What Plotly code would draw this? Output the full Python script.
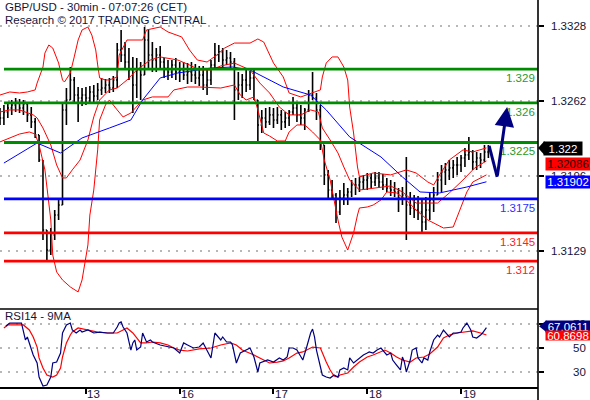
import plotly.graph_objects as go

# ---------------- data (30-min bar numbers; sampled hourly) ----------------
bar_index = list(range(0, 252, 2))
bar_open = [1.32494,1.32467,1.32520,1.32555,1.32582,1.32600,1.32555,1.32591,1.32494,1.32432,
            1.32317,1.32095,1.31475,1.31298,1.31431,1.31608,1.31696,1.32538,1.32626,1.32803,
            1.32670,1.32644,1.32670,1.32644,1.32697,1.32661,1.32715,1.32732,1.32759,1.32732,
            1.32803,1.33069,1.33024,1.32962,1.32892,1.32759,1.32892,1.32847,1.33157,1.33024,
            1.32980,1.33024,1.32962,1.32909,1.32874,1.32936,1.32874,1.32892,1.32847,1.32874,
            1.32847,1.32821,1.32847,1.32759,1.32803,1.32936,1.33024,1.33051,1.32980,1.32998,
            1.32962,1.32715,1.32759,1.32803,1.32759,1.32821,1.32626,1.32405,1.32467,1.32432,
            1.32494,1.32449,1.32494,1.32432,1.32467,1.32520,1.32555,1.32494,1.32467,1.32538,
            1.32670,1.32644,1.32538,1.32228,1.31963,1.31829,1.31785,1.31634,1.31758,1.31785,
            1.31812,1.31874,1.31874,1.31900,1.31918,1.31936,1.31900,1.31936,1.31900,1.31874,
            1.31847,1.31829,1.31812,1.31758,1.31785,1.31696,1.31670,1.31652,1.31634,1.31546,
            1.31652,1.31741,1.31785,1.31918,1.31989,1.32007,1.32025,1.32051,1.32051,1.32113,
            1.32140,1.32166,1.32078,1.32113,1.32095,1.32166]
bar_high = [1.32555,1.32582,1.32600,1.32626,1.32644,1.32635,1.32626,1.32591,1.32564,1.32467,
            1.32317,1.32095,1.31475,1.31493,1.31652,1.31741,1.32600,1.32732,1.32918,1.32830,
            1.32741,1.32732,1.32741,1.32750,1.32759,1.32776,1.32821,1.32812,1.32821,1.32838,
            1.33130,1.33246,1.33139,1.33086,1.33007,1.32998,1.32962,1.33272,1.33246,1.33139,
            1.33086,1.33104,1.32998,1.32980,1.32980,1.32998,1.32962,1.32962,1.32953,1.32962,
            1.32945,1.32927,1.32927,1.32909,1.32980,1.33130,1.33113,1.33086,1.33069,1.33051,
            1.32998,1.32874,1.32856,1.32892,1.32883,1.32892,1.32626,1.32538,1.32555,1.32564,
            1.32555,1.32564,1.32538,1.32520,1.32538,1.32653,1.32600,1.32582,1.32555,1.32715,
            1.32874,1.32688,1.32582,1.32228,1.32007,1.31918,1.31803,1.31829,1.31891,1.31847,
            1.31918,1.31936,1.31945,1.31963,1.31980,1.31971,1.31989,1.31989,1.31971,1.31936,
            1.31918,1.31900,1.31847,1.31856,1.32122,1.31812,1.31785,1.31776,1.31741,1.31767,
            1.31812,1.31856,1.31989,1.32051,1.32069,1.32095,1.32095,1.32122,1.32140,1.32202,
            1.32299,1.32184,1.32166,1.32157,1.32228,1.32228]
bar_low = [1.32405,1.32405,1.32467,1.32494,1.32520,1.32511,1.32494,1.32432,1.32378,1.32290,
           1.32078,1.31387,1.31192,1.31254,1.31387,1.31564,1.31696,1.32405,1.32626,1.32600,
           1.32432,1.32573,1.32582,1.32591,1.32591,1.32626,1.32670,1.32688,1.32688,1.32697,
           1.32732,1.32962,1.32892,1.32803,1.32511,1.32644,1.32626,1.32847,1.32909,1.32874,
           1.32874,1.32909,1.32821,1.32803,1.32821,1.32803,1.32785,1.32803,1.32768,1.32785,
           1.32768,1.32750,1.32715,1.32670,1.32759,1.32892,1.32962,1.32909,1.32936,1.32892,
           1.32449,1.32626,1.32644,1.32697,1.32715,1.32626,1.32237,1.32334,1.32378,1.32405,
           1.32378,1.32414,1.32361,1.32378,1.32396,1.32494,1.32432,1.32405,1.32361,1.32520,
           1.32626,1.32449,1.32184,1.31874,1.31741,1.31741,1.31537,1.31608,1.31696,1.31696,
           1.31767,1.31785,1.31812,1.31829,1.31829,1.31847,1.31865,1.31847,1.31829,1.31812,
           1.31776,1.31767,1.31634,1.31696,1.31387,1.31608,1.31581,1.31564,1.31458,1.31475,
           1.31564,1.31634,1.31785,1.31812,1.31874,1.31918,1.31936,1.31963,1.31989,1.32033,
           1.32095,1.32007,1.32007,1.32025,1.32078,1.32113]
bar_close = [1.32467,1.32520,1.32555,1.32582,1.32600,1.32555,1.32591,1.32494,1.32432,1.32317,
             1.32095,1.31475,1.31298,1.31431,1.31608,1.31696,1.32538,1.32626,1.32803,1.32670,
             1.32644,1.32670,1.32644,1.32697,1.32661,1.32715,1.32732,1.32759,1.32732,1.32803,
             1.33069,1.33024,1.32962,1.32892,1.32759,1.32892,1.32847,1.33157,1.33024,1.32980,
             1.33024,1.32962,1.32909,1.32874,1.32936,1.32874,1.32892,1.32847,1.32874,1.32847,
             1.32821,1.32847,1.32759,1.32803,1.32936,1.33024,1.33051,1.32980,1.32998,1.32962,
             1.32715,1.32759,1.32803,1.32759,1.32821,1.32626,1.32405,1.32467,1.32432,1.32494,
             1.32449,1.32494,1.32432,1.32467,1.32520,1.32555,1.32494,1.32467,1.32538,1.32670,
             1.32644,1.32538,1.32228,1.31963,1.31829,1.31785,1.31634,1.31758,1.31785,1.31812,
             1.31874,1.31874,1.31900,1.31918,1.31936,1.31900,1.31936,1.31900,1.31874,1.31847,
             1.31829,1.31812,1.31758,1.31785,1.31696,1.31670,1.31652,1.31634,1.31546,1.31652,
             1.31741,1.31785,1.31918,1.31989,1.32007,1.32025,1.32051,1.32051,1.32113,1.32140,
             1.32166,1.32078,1.32113,1.32095,1.32166,1.32202]

bb_upper_x = [0,5,10,14,18,19,22,23,25,27,30,32,33,36,38,40,42,45,47,49,50,51,54,56,60,61,65,73,75,82,
              86,93,97,101,106,111,115,120,128,132,135,137,140,145,148,154,160,164,165,167,170,173,176,178,179,
              181,183,184,191,200,208,213,219,222,225,230,237,242,249]
bb_upper = [1.32670,1.32697,1.32688,1.32697,1.32715,1.32776,1.32918,1.33042,1.33113,1.33086,
            1.32953,1.32803,1.32785,1.32865,1.33007,1.33157,1.33246,1.33272,1.33201,1.33069,
            1.32936,1.32821,1.32803,1.32803,1.32830,1.33024,1.33157,1.33157,1.33246,1.33272,
            1.33228,1.33184,1.33069,1.32980,1.32962,1.33024,1.33086,1.33130,1.33130,1.33166,
            1.33139,1.33069,1.32953,1.32830,1.32688,1.32653,1.32688,1.32715,1.32830,1.32953,
            1.33007,1.33007,1.32918,1.32803,1.32564,1.32334,1.32033,1.31945,1.31980,1.31963,
            1.32007,1.31980,1.31900,1.31874,1.31963,1.32095,1.32184,1.32166,1.32202]
bb_mid_x = [0,5,10,17,19,22,26,29,32,34,37,41,45,48,51,56,60,65,70,77,82,91,97,102,108,113,120,128,133,138,
            143,148,154,159,163,165,169,173,176,179,184,192,200,206,213,224,230,237,243,249]
bb_mid = [1.32520,1.32538,1.32538,1.32494,1.32467,1.32378,1.32228,1.32051,1.31936,1.31936,
          1.32007,1.32095,1.32272,1.32476,1.32626,1.32715,1.32732,1.32803,1.32892,1.32980,
          1.33007,1.32980,1.32936,1.32892,1.32892,1.32927,1.32953,1.32892,1.32776,1.32688,
          1.32564,1.32494,1.32494,1.32538,1.32520,1.32378,1.32272,1.32157,1.32033,1.31918,
          1.31829,1.31847,1.31865,1.31812,1.31714,1.31714,1.31803,1.31918,1.32025,1.32086]
bb_lower_x = [0,5,10,15,18,20,23,26,27,29,32,36,40,42,45,46,48,50,51,54,56,60,63,67,70,73,78,86,89,96,
              102,113,120,123,126,130,132,135,138,142,146,148,152,156,160,164,166,169,173,175,178,181,183,184,
              188,191,195,198,203,208,213,219,227,232,236,239,242,249]
bb_lower = [1.32255,1.32290,1.32325,1.32343,1.32325,1.32228,1.32007,1.31564,1.31254,1.31104,
            1.31033,1.30971,1.30927,1.31033,1.31343,1.31608,1.31829,1.32184,1.32449,1.32582,
            1.32626,1.32538,1.32476,1.32511,1.32564,1.32626,1.32653,1.32653,1.32715,1.32741,
            1.32741,1.32732,1.32759,1.32670,1.32626,1.32653,1.32538,1.32334,1.32307,1.32263,
            1.32263,1.32343,1.32405,1.32405,1.32343,1.32272,1.32095,1.31918,1.31564,1.31413,
            1.31298,1.31449,1.31608,1.31670,1.31679,1.31696,1.31741,1.31812,1.31803,1.31741,
            1.31652,1.31564,1.31493,1.31502,1.31679,1.31812,1.31900,1.31963]
ma_x = [2,19,31,42,56,67,73,82,91,108,119,128,145,159,167,179,195,206,215,225,239,249]
ma_y = [1.32068,1.32245,1.32157,1.32290,1.32378,1.32449,1.32626,1.32821,1.32865,1.32909,1.32918,
        1.32892,1.32741,1.32670,1.32538,1.32299,1.32122,1.31945,1.31812,1.31803,1.31856,1.31902]

rsi_x = [3,5,11,13,14,16,17,19,20,22,24,26,27,29,31,32,33,34,36,37,39,41,42,45,48,51,55,58,60,61,
         62,63,65,67,68,69,70,72,73,75,77,78,82,86,89,92,94,96,99,102,104,108,110,113,114,116,118,119,121,123,
         126,128,130,132,133,137,140,143,145,147,148,150,152,155,157,159,160,161,162,164,
         165,167,169,171,173,174,176,178,179,181,183,184,186,188,189,191,193,195,196,198,
         200,201,203,205,206,207,208,210,211,213,214,216,217,219,220,222,224,225,227,229,
         230,232,234,236,237,239,241,242,244,246,247,249]
rsi_v = [68.3,70.8,70.8,56.7,59.2,48.3,44.2,37.5,25.8,18.3,19.2,25.8,37.5,38.3,45.8,62.5,66.7,69.2,70.8,65.0,
         62.5,65.0,63.3,65.0,62.5,63.3,62.5,62.5,67.5,70.8,71.7,67.5,62.5,48.3,54.2,56.7,48.3,50.8,62.5,55.0,
         56.7,55.0,52.5,50.8,50.0,45.8,54.2,52.5,50.0,50.8,54.2,41.7,62.5,56.7,59.2,55.0,55.0,52.5,37.5,45.8,
         48.3,50.0,42.5,30.0,37.5,40.0,38.3,41.7,40.0,42.5,50.0,50.0,48.3,40.0,50.8,62.5,65.8,59.2,48.3,34.2,
         27.5,25.8,25.0,27.5,25.8,31.7,33.3,31.7,41.7,37.5,40.0,41.7,44.2,45.8,46.7,45.8,48.3,50.0,48.3,44.2,
         45.8,40.0,35.8,31.7,42.5,38.3,30.0,40.0,48.3,50.0,41.7,37.5,41.7,40.0,46.7,56.7,60.8,59.2,65.0,60.8,
         59.2,62.5,62.5,63.3,66.7,70.8,65.0,59.2,58.3,60.8,62.5,67.06]
rsima_x = [2,4,12,15,17,19,20,22,24,27,29,31,32,34,36,37,40,45,50,55,60,63,65,68,72,75,78,82,86,89,
           92,96,99,102,108,113,118,121,124,130,135,138,142,145,148,152,155,159,160,164,
           165,167,169,171,173,174,178,181,184,188,191,195,197,200,203,206,210,213,217,220,
           224,227,230,234,239,242,246,249]
rsima_v = [66.7,69.2,69.2,65.0,59.2,50.8,41.7,33.3,27.5,25.8,27.5,33.3,42.5,54.2,60.8,63.3,66.7,65.0,63.3,62.5,
           62.5,65.0,66.7,62.5,54.2,54.2,55.0,54.2,52.5,50.0,48.3,47.5,48.3,49.2,50.0,52.5,54.2,52.5,48.3,44.2,
           40.0,37.5,38.3,39.2,41.7,45.8,46.7,50.0,50.8,50.0,45.8,38.3,31.7,26.7,25.8,27.5,29.2,34.2,38.3,42.5,
           44.2,46.7,48.3,45.8,42.5,40.0,38.3,41.7,42.5,45.0,50.8,58.3,60.8,62.5,63.3,64.2,62.5,60.87]

levels = [1.329, 1.326, 1.3225, 1.3175, 1.3145, 1.312]
level_labels = ["1.329", "1.326", "1.3225", "1.3175", "1.3145", "1.312"]
level_colors = ["#008c00", "#008c00", "#008c00", "#0000ff", "#ff0000", "#ff0000"]
level_text_colors = ["#2a9a2a", "#2a9a2a", "#2a9a2a", "#3030ff", "#ff2020", "#ff2020"]

forecast_x = [250.4, 254.5, 259.6]
forecast_y = [1.32219, 1.31945, 1.32564]

price_ticks = [1.33281, 1.32617, 1.31953, 1.31290]
price_tick_text = ["1.3328", "1.3262", "1.3196", "1.3129"]
rsi_ticks = [30, 50, 70]
day_ticks = [44, 92, 140, 188, 236]
day_labels = ["13", "16", "17", "18", "19"]

last_close = 1.322
last_mid = 1.32086
last_ma = 1.31902
last_rsi = 67.0611
last_rsima = 60.8698

# ---------------- figure ----------------
W, H = 590, 400
XR = 538 / W
FONT = "Liberation Sans, Arial, sans-serif"
TXT = "#14143a"

fig = go.Figure()
for xs, ys in [(bb_upper_x, bb_upper), (bb_mid_x, bb_mid), (bb_lower_x, bb_lower)]:
    fig.add_trace(go.Scatter(x=xs, y=ys, mode="lines", line=dict(color="#ff0000", width=1),
                             xaxis="x", yaxis="y", hoverinfo="skip"))
fig.add_trace(go.Scatter(x=ma_x, y=ma_y, mode="lines", line=dict(color="#0000ff", width=1),
                         xaxis="x", yaxis="y", hoverinfo="skip"))
fig.add_trace(go.Ohlc(x=bar_index, open=bar_open, high=bar_high, low=bar_low, close=bar_close,
                      increasing=dict(line=dict(color="black", width=1.6)),
                      decreasing=dict(line=dict(color="black", width=1.6)),
                      tickwidth=0.3, xaxis="x", yaxis="y"))
fig.add_trace(go.Scatter(x=forecast_x[:2], y=forecast_y[:2], mode="lines",
                         line=dict(color="#000080", width=3), xaxis="x", yaxis="y"))
fig.add_trace(go.Scatter(x=rsima_x, y=rsima_v, mode="lines", line=dict(color="#ff0000", width=1.2),
                         xaxis="x", yaxis="y2"))
fig.add_trace(go.Scatter(x=rsi_x, y=rsi_v, mode="lines", line=dict(color="#000080", width=1.2),
                         xaxis="x", yaxis="y2"))

shapes = []
for lv, c in zip(levels, level_colors):
    shapes.append(dict(type="line", xref="paper", yref="y", x0=4 / W, x1=XR, y0=lv, y1=lv,
                       line=dict(color=c, width=2.8)))
shapes.append(dict(type="line", xref="paper", yref="paper", x0=0, x1=XR, y0=91 / H, y1=91 / H,
                   line=dict(color="black", width=1.6)))
shapes.append(dict(type="line", xref="paper", yref="paper", x0=XR, x1=XR, y0=0, y1=1,
                   line=dict(color="black", width=1.6)))

ann = []
ann.append(dict(xref="paper", yref="paper", x=3 / W, y=1 - 7 / H, xanchor="left", yanchor="middle",
                text="GBP/USD - 30min - 07:07:26 (CET)", showarrow=False, font=dict(family=FONT, size=11.5, color=TXT)))
ann.append(dict(xref="paper", yref="paper", x=3 / W, y=1 - 20 / H, xanchor="left", yanchor="middle",
                text="Research © 2017 TRADING CENTRAL", showarrow=False, font=dict(family=FONT, size=11.5, color=TXT)))
ann.append(dict(xref="paper", yref="paper", x=3 / W, y=1 - 316 / H, xanchor="left", yanchor="middle",
                text="RSI14 - 9MA", showarrow=False, font=dict(family=FONT, size=11.5, color=TXT)))
for lv, t, c in zip(levels, level_labels, level_text_colors):
    ann.append(dict(xref="paper", yref="y", x=537 / W, y=lv, xanchor="right", yanchor="top", yshift=-1,
                    text=t, showarrow=False, font=dict(family=FONT, size=11.5, color=c)))
for tv, tt in zip(price_ticks, price_tick_text):
    ann.append(dict(xref="paper", yref="y", x=588 / W, y=tv, xanchor="right", yanchor="middle",
                    text=tt, showarrow=False, font=dict(family=FONT, size=11.5, color=TXT)))
for tv in rsi_ticks:
    ann.append(dict(xref="paper", yref="y2", x=588 / W, y=tv, xanchor="right", yanchor="middle",
                    text=str(tv), showarrow=False, font=dict(family=FONT, size=11.5, color=TXT)))
for tv, tt in zip(day_ticks, day_labels):
    ann.append(dict(xref="x", yref="paper", x=tv, xshift=8, y=1 - 393.5 / H, xanchor="center",
                    yanchor="middle", text=tt, showarrow=False, borderpad=0,
                    font=dict(family=FONT, size=11.5, color=TXT)))

# forecast arrow head segment
ann.append(dict(xref="x", yref="y", axref="x", ayref="y", x=forecast_x[2], y=forecast_y[2],
                ax=forecast_x[1], ay=forecast_y[1], text="", showarrow=True, arrowhead=2,
                arrowsize=1.3, arrowwidth=3, arrowcolor="#000080", standoff=0))

# value boxes
def value_box(text, yval, yref, bg, fg, x_left, x_right, h, yshift=0):
    ann.append(dict(xref="paper", yref=yref, x=(x_left + x_right) / 2 / W, y=yval, yshift=yshift,
                    xanchor="center", yanchor="middle", text=text, showarrow=False,
                    width=x_right - x_left, height=h, bgcolor=bg, borderpad=0,
                    font=dict(family=FONT, size=11.5, color=fg)))

value_box("1.322", last_close, "y", "#000000", "#ffffff", 544, 582, 13)
value_box("1.32086", last_mid, "y", "#ff0000", "#200000", 546, 590, 12, yshift=-3)
value_box("1.31902", last_ma, "y", "#0000ff", "#ffffff", 546, 590, 12)
value_box("67.0611", last_rsi, "y2", "#000080", "#ffffff", 546, 590, 11, yshift=1)
value_box("60.8698", last_rsima, "y2", "#ff0000", "#ffffff", 546, 590, 9, yshift=-1)

# pointer triangles for boxes (paper x, data y)
dy = 7 * (1.33511 - 1.30785) / 308
shapes.append(dict(type="path", xref="paper", yref="y",
                   path=f"M {538/W},{last_close} L {544.5/W},{last_close+dy} L {544.5/W},{last_close-dy} Z",
                   fillcolor="#000000", line=dict(width=0)))
dyr = 6 * 65 / 78
shapes.append(dict(type="path", xref="paper", yref="y2",
                   path=f"M {539/W},{last_rsi + 1.2/1.2} L {546.5/W},{last_rsi+dyr+1} L {546.5/W},{last_rsi-dyr+1} Z",
                   fillcolor="#000080", line=dict(width=0)))

fig.update_layout(
    width=W, height=H, margin=dict(l=0, r=0, t=0, b=0, pad=0), autosize=False,
    paper_bgcolor="white", plot_bgcolor="white", showlegend=False,
    xaxis=dict(domain=[0, XR], range=[0, 275.4], anchor="y2", tickvals=day_ticks, showticklabels=False,
               ticks="outside", ticklen=5, tickwidth=1.5, tickcolor="black", showline=True,
               linecolor="black", linewidth=1.6, showgrid=False, zeroline=False, automargin=False,
               rangeslider=dict(visible=False)),
    yaxis=dict(domain=[92 / H, 1], range=[1.30785, 1.33511], side="right", anchor="x",
               tickvals=price_ticks, showticklabels=False, ticks="outside", ticklen=5, tickwidth=1.5,
               tickcolor="black", showgrid=True, gridcolor="#b8b8b8", gridwidth=1.5, griddash="2px,6px",
               zeroline=False, showline=False, automargin=False),
    yaxis2=dict(domain=[13 / H, 91 / H], range=[17.5, 82.5], side="right", anchor="x",
                tickvals=rsi_ticks, showticklabels=False, ticks="outside", ticklen=5, tickwidth=1.5,
                tickcolor="black", showgrid=True, gridcolor="#b8b8b8", gridwidth=1.5, griddash="2px,6px",
                zeroline=False, showline=False, automargin=False),
    shapes=shapes, annotations=ann,
)

fig.write_html("out.html", config={"displayModeBar": False, "responsive": False},
               post_script="document.body.style.margin='0';document.body.style.padding='0';"
                           "document.body.style.overflow='hidden';")
